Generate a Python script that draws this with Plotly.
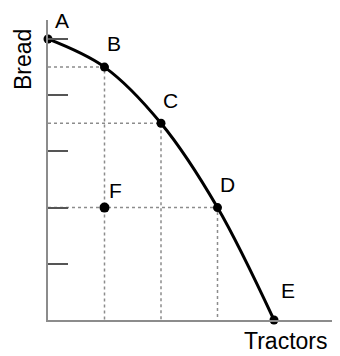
import plotly.graph_objects as go

# Production possibilities data
labels = ["A", "B", "C", "D", "E"]
tractors = [0, 1, 2, 3, 4]
bread = [5, 4.5, 3.5, 2, 0]
f_label = "F"
f_tractors = 1
f_bread = 2
y_ticks = [1, 2, 3, 4, 5]

# label offsets in pixels (style)
offsets = {"A": (14, 19), "B": (9, 24), "C": (9, 23), "D": (10, 23), "E": (14, 30), "F": (11, 17)}

font = "Liberation Sans, Arial, sans-serif"
fig = go.Figure()

# dotted guide lines for B, C, D
guide_x, guide_y = [], []
for lab, xv, yv in zip(labels, tractors, bread):
    if lab in ("B", "C", "D"):
        guide_x += [0, xv, xv, None]
        guide_y += [yv, yv, 0, None]
fig.add_trace(go.Scatter(x=guide_x, y=guide_y, mode="lines",
                         line=dict(color="#8c8c8c", width=1.5, dash="dot"),
                         hoverinfo="skip", showlegend=False))

# frontier curve
fig.add_trace(go.Scatter(x=tractors, y=bread, mode="lines+markers",
                         line=dict(color="black", width=3, shape="spline"),
                         marker=dict(color="black", size=9),
                         showlegend=False, cliponaxis=False))

# point F
fig.add_trace(go.Scatter(x=[f_tractors], y=[f_bread], mode="markers",
                         marker=dict(color="black", size=10),
                         showlegend=False, cliponaxis=False))

annotations = []
for lab, xv, yv in list(zip(labels, tractors, bread)) + [(f_label, f_tractors, f_bread)]:
    dx, dy = offsets[lab]
    annotations.append(dict(x=xv, y=yv, xref="x", yref="y", text=lab, showarrow=False,
                            xshift=dx, yshift=dy, xanchor="center", yanchor="middle",
                            borderpad=0,
                            font=dict(family=font, size=21, color="black")))

annotations.append(dict(x=(23 - 48) / 292, y=(320 - 60) / 300, xref="paper", yref="paper",
                        text="Bread", textangle=-90, showarrow=False,
                        xanchor="center", yanchor="middle",
                        font=dict(family=font, size=23, color="black")))
annotations.append(dict(x=(286 - 48) / 292, y=(320 - 341) / 300, xref="paper", yref="paper",
                        text="Tractors", showarrow=False,
                        xanchor="center", yanchor="middle",
                        font=dict(family=font, size=23, color="black")))

# the page adds an 8px body margin, so the figure is 8px smaller and margins shifted
fig.update_layout(
    width=332, height=348,
    margin=dict(l=40, r=0, t=12, b=36),
    paper_bgcolor="white", plot_bgcolor="white",
    xaxis=dict(range=[0, 292 / 56.5], showgrid=False, zeroline=False, showline=True,
               linecolor="#8c8c8c", linewidth=1.5, showticklabels=False, ticks="",
               fixedrange=True),
    yaxis=dict(range=[0, 300 / 56.2], showgrid=False, zeroline=False, showline=True,
               linecolor="#8c8c8c", linewidth=1.5, showticklabels=False,
               ticks="inside", ticklen=20, tickwidth=1.5, tickcolor="#555555",
               tickvals=y_ticks, fixedrange=True),
    annotations=annotations,
)

fig.write_html("out.html")
